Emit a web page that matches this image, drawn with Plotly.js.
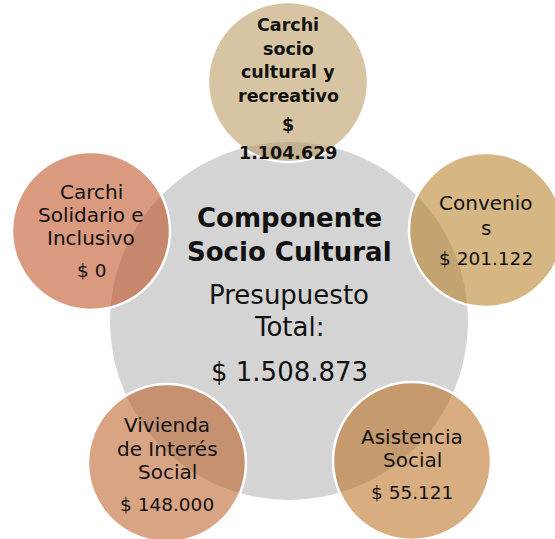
<!DOCTYPE html>
<html>
<head>
<meta charset="utf-8">
<script src="https://cdn.plot.ly/plotly-3.0.1.min.js"></script>
<style>html,body{margin:0;padding:0;background:#fff;}#chart{width:555px;height:539px;}</style>
</head>
<body>
<div id="chart"></div>
<script>
// ---- data ----
const centerTitle = ["Componente", "Socio Cultural"];
const centerSubtitle = ["Presupuesto", "Total:"];
const totalBudget = 1508873;
const categories = ["Carchi socio cultural y recreativo", "Convenios", "Asistencia Social", "Vivienda de Interés Social", "Carchi Solidario e Inclusivo"];
const categoryLines = [["Carchi", "socio", "cultural y", "recreativo"], ["Convenio", "s"], ["Asistencia", "Social"], ["Vivienda", "de Interés", "Social"], ["Carchi", "Solidario e", "Inclusivo"]];
const amounts = [1104629, 201122, 55121, 148000, 0];

// ---- layout / style (not data) ----
const hub = {cx: 289, cy: 321, r: 179, color: "#d4d4d4"};
const nodes = [
  {cx: 288, cy: 82, r: 80, color: "#d6c4a2", bold: true, nameY: 25, valueY: [125, 153], gap: 23.5, size: 17.5, vsize: 17.5},
  {cx: 486, cy: 230, r: 77, color: "#d6b784", bold: false, nameY: 203, valueY: [258], gap: 25, size: 20, vsize: 18.5},
  {cx: 412, cy: 461, r: 79, color: "#d8ad80", bold: false, nameY: 437, valueY: [492], gap: 22.5, size: 20, vsize: 18.5},
  {cx: 167, cy: 463, r: 79, color: "#d8a484", bold: false, nameY: 425, valueY: [504], gap: 23.5, size: 20, vsize: 18.5},
  {cx: 91, cy: 231, r: 79, color: "#d99a80", bold: false, nameY: 192, valueY: [270], gap: 23, size: 20, vsize: 18.5}
];
const alpha = 0.55;
const FONT = "'DejaVu Sans', 'Liberation Sans', sans-serif";

function fmt(n) {
  return String(n).replace(/\B(?=(\d{3})+(?!\d))/g, ".");
}
function baseColor(hex) {
  const v = [1, 3, 5].map(i => parseInt(hex.substr(i, 2), 16));
  const b = v.map(c => Math.max(0, Math.min(255, Math.round((c - (1 - alpha) * 255) / alpha))));
  return "rgba(" + b.join(",") + "," + alpha + ")";
}

const shapes = [{
  type: "circle", xref: "x", yref: "y", layer: "above",
  x0: hub.cx - hub.r, x1: hub.cx + hub.r, y0: hub.cy - hub.r, y1: hub.cy + hub.r,
  fillcolor: hub.color, line: {width: 0}
}];
const annotations = [];
function addText(x, y, text, size, bold) {
  annotations.push({
    x: x, y: y, xref: "x", yref: "y", showarrow: false,
    text: bold ? "<b>" + text + "</b>" : text,
    font: {family: FONT, size: size, color: "#111111"},
    xanchor: "center", yanchor: "middle"
  });
}

nodes.forEach((nd, i) => {
  shapes.push({
    type: "circle", xref: "x", yref: "y", layer: "above",
    x0: nd.cx - nd.r, x1: nd.cx + nd.r, y0: nd.cy - nd.r, y1: nd.cy + nd.r,
    fillcolor: baseColor(nd.color), line: {color: "#ffffff", width: 2.5}
  });
  categoryLines[i].forEach((ln, k) => addText(nd.cx, nd.nameY + k * nd.gap, ln, nd.size, nd.bold));
  const v = fmt(amounts[i]);
  if (nd.valueY.length === 2) {
    addText(nd.cx, nd.valueY[0], "$", nd.vsize, nd.bold);
    addText(nd.cx, nd.valueY[1], v, nd.vsize, nd.bold);
  } else {
    addText(nd.cx, nd.valueY[0], "$ " + v, nd.vsize, nd.bold);
  }
});

addText(hub.cx, 218, centerTitle[0], 26, true);
addText(hub.cx, 252, centerTitle[1], 26, true);
addText(hub.cx, 295, centerSubtitle[0], 26, false);
addText(hub.cx, 327, centerSubtitle[1], 26, false);
addText(hub.cx, 372, "$ " + fmt(totalBudget), 26, false);

const layout = {
  width: 555, height: 539,
  margin: {l: 0, r: 0, t: 0, b: 0},
  paper_bgcolor: "#ffffff", plot_bgcolor: "#ffffff",
  xaxis: {range: [0, 555], visible: false, fixedrange: true},
  yaxis: {range: [539, 0], visible: false, fixedrange: true},
  showlegend: false,
  shapes: shapes,
  annotations: annotations
};
Plotly.newPlot("chart", [{x: [], y: [], type: "scatter", mode: "markers", hoverinfo: "skip"}], layout, {staticPlot: true, displayModeBar: false});
</script>
</body>
</html>
